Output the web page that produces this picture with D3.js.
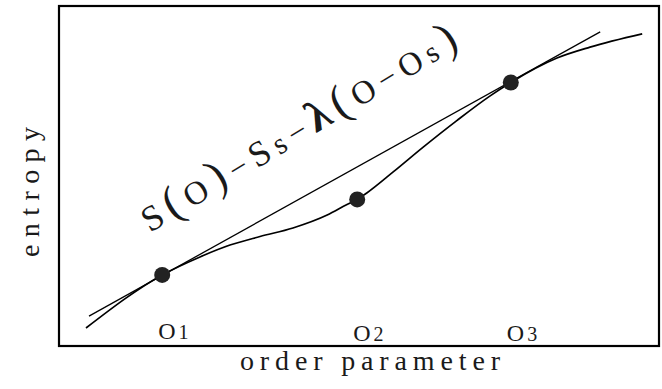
<!DOCTYPE html>
<html>
<head>
<meta charset="utf-8">
<script src="https://cdn.jsdelivr.net/npm/d3@7"></script>
<style>
  html, body { margin: 0; padding: 0; background: #fff; }
  svg { display: block; }
  text { font-family: "Liberation Serif", "Times New Roman", serif; fill: #1a1a1a; }
</style>
</head>
<body>
<svg id="chart" width="662" height="389"></svg>
<script>
// Entropy curve S(O) sampled along the order parameter
const curveX = [4.5, 17.2, 23.5, 28.5, 33.5, 39.0, 44.7, 48.0, 49.7, 51.3, 55.7, 60.7, 66.3, 71.8, 75.3, 83.0, 88.5, 97.2];
const curveY = [5.3, 20.9, 26.2, 29.7, 32.2, 34.7, 38.5, 41.6, 43.1, 45.0, 51.2, 58.5, 66.3, 73.5, 77.5, 84.7, 87.9, 91.8];

// Common tangent line (double-tangent construction)
const tangentX = [5.0, 90.2];
const tangentY = [8.8, 92.4];

// Marked states on the curve
const stateNames = ["O", "O", "O"];
const stateSubs = ["1", "2", "3"];
const stateX = [17.2, 49.7, 75.3];
const stateY = [20.9, 43.1, 77.5];

const xLabel = "order parameter";
const yLabel = "entropy";

const svg = d3.select("#chart");
const box = { left: 59, right: 659, top: 6, bottom: 346 };

const x = d3.scaleLinear().domain([0, 100]).range([box.left, box.right]);
const y = d3.scaleLinear().domain([0, 100]).range([box.bottom, box.top]);

// Frame
svg.append("rect")
  .attr("x", box.left).attr("y", box.top)
  .attr("width", box.right - box.left).attr("height", box.bottom - box.top)
  .attr("fill", "none").attr("stroke", "#000").attr("stroke-width", 2.2);

// Tangent line
const tangent = tangentX.map((d, i) => [d, tangentY[i]]);
svg.append("path")
  .attr("d", d3.line().x(d => x(d[0])).y(d => y(d[1]))(tangent))
  .attr("fill", "none").attr("stroke", "#000").attr("stroke-width", 1.3);

// Entropy curve
const curve = curveX.map((d, i) => [d, curveY[i]]);
svg.append("path")
  .attr("d", d3.line().x(d => x(d[0])).y(d => y(d[1])).curve(d3.curveMonotoneX)(curve))
  .attr("fill", "none").attr("stroke", "#000").attr("stroke-width", 1.7);

// State markers
const states = stateX.map((d, i) => ({ x: d, y: stateY[i], name: stateNames[i], sub: stateSubs[i] }));
svg.selectAll("circle.state").data(states).enter().append("circle")
  .attr("class", "state")
  .attr("cx", d => x(d.x)).attr("cy", d => y(d.y)).attr("r", 8)
  .attr("fill", "#222");

// State labels along the bottom
const lab = svg.selectAll("text.state").data(states).enter().append("text")
  .attr("class", "state")
  .attr("x", d => x(d.x) - 4)
  .attr("y", (d, i) => i === 0 ? 339 : 341)
  .attr("font-size", 24);
lab.append("tspan").text(d => d.name);
lab.append("tspan").attr("dx", 3).attr("font-size", 20).text(d => d.sub);

// Axis titles
svg.append("text")
  .attr("x", 370).attr("y", 370)
  .attr("text-anchor", "middle")
  .attr("font-size", 28)
  .attr("textLength", 260).attr("lengthAdjust", "spacing")
  .text(xLabel);

svg.append("text")
  .attr("transform", "translate(39,192) rotate(-90)")
  .attr("text-anchor", "middle")
  .attr("font-size", 28)
  .attr("textLength", 130).attr("lengthAdjust", "spacing")
  .text(yLabel);

// Formula written along the tangent
const formula = svg.append("text")
  .attr("transform", "translate(150,233) rotate(-31)")
  .attr("fill", "#2a2a2a")
  .attr("textLength", 362).attr("lengthAdjust", "spacing");
const parts = [
  { t: "S", s: 36 }, { t: "(", s: 46 }, { t: "O", s: 33 }, { t: ")", s: 46 },
  { t: "\u2212", s: 32 }, { t: "S", s: 36 }, { t: "s", s: 30 },
  { t: "\u2212", s: 32 }, { t: "\u03bb", s: 44, w: "bold" }, { t: "(", s: 46 },
  { t: "O", s: 33 }, { t: "\u2212", s: 32 }, { t: "O", s: 33 }, { t: "s", s: 30 }, { t: ")", s: 46 }
];
parts.forEach(p => {
  formula.append("tspan")
    .attr("font-size", p.s)
    .attr("font-weight", p.w || "normal")
    .text(p.t);
});
</script>
</body>
</html>
